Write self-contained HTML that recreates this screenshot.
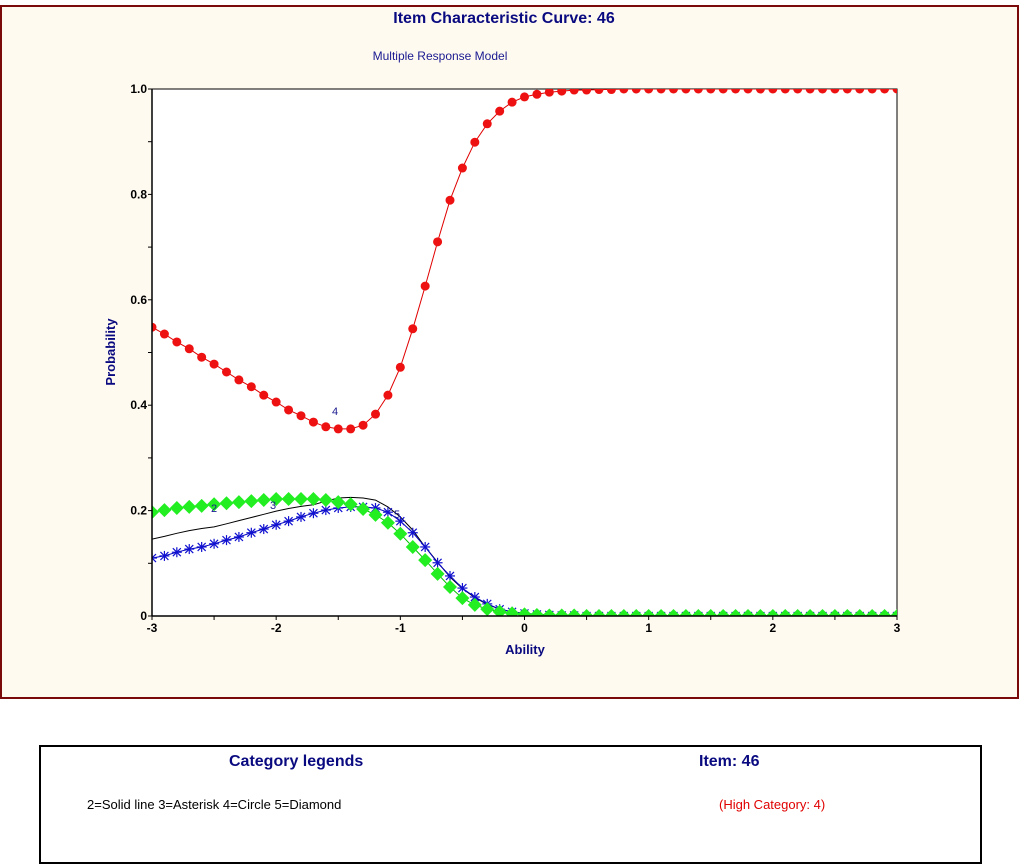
<!DOCTYPE html>
<html><head><meta charset="utf-8">
<style>
body{margin:0;width:1023px;height:867px;background:#fff;font-family:"Liberation Sans",Arial,sans-serif;position:relative;overflow:hidden}
#frame{position:absolute;left:0;top:5px;width:1015px;height:690px;border:2px solid #7a0a0a;background:#fffaf0}
#legend{position:absolute;left:39px;top:745px;width:939px;height:115px;border:2px solid #000;background:#fff}
</style></head><body>
<div id="frame"></div>
<svg id="chart" width="1023" height="700" style="position:absolute;left:0;top:0"><defs><clipPath id="pc"><rect x="152" y="89" width="745" height="527"/></clipPath></defs></svg>
<div id="legend">
<div style="position:absolute;left:188px;top:6px;font-weight:bold;font-size:16px;color:#0a0a80">Category legends</div>
<div style="position:absolute;left:658px;top:6px;font-weight:bold;font-size:16px;color:#0a0a80">Item: 46</div>
<div style="position:absolute;left:46px;top:50px;font-size:13px;color:#000">2=Solid line 3=Asterisk 4=Circle 5=Diamond</div>
<div style="position:absolute;left:678px;top:50px;font-size:13px;color:#e00000">(High Category: 4)</div>
</div>
<script>
const xs=[];for(let i=0;i<=60;i++)xs.push(-3+i*0.1);
const cat4=[0.548,0.535,0.520,0.507,0.491,0.478,0.463,0.448,0.435,0.419,0.406,0.391,0.380,0.368,0.359,0.355,0.355,0.362,0.383,0.419,0.472,0.545,0.626,0.710,0.789,0.850,0.899,0.934,0.958,0.975,0.985,0.990,0.994,0.996,0.998,0.998,0.999,0.999,1,1,1,1,1,1,1,1,1,1,1,1,1,1,1,1,1,1,1,1,1,1,1];
const cat5=[0.197,0.201,0.205,0.207,0.209,0.212,0.214,0.216,0.218,0.220,0.222,0.222,0.222,0.222,0.220,0.216,0.212,0.203,0.192,0.177,0.156,0.131,0.106,0.080,0.055,0.034,0.021,0.013,0.008,0.005,0.003,0.002,0.001,0.001,0.001,0,0,0,0,0,0,0,0,0,0,0,0,0,0,0,0,0,0,0,0,0,0,0,0,0,0];
const cat3=[0.110,0.114,0.121,0.127,0.131,0.137,0.144,0.150,0.158,0.165,0.173,0.180,0.188,0.195,0.201,0.205,0.207,0.207,0.205,0.197,0.180,0.158,0.131,0.101,0.076,0.053,0.036,0.023,0.013,0.008,0.005,0.003,0.002,0.001,0.001,0,0,0,0,0,0,0,0,0,0,0,0,0,0,0,0,0,0,0,0,0,0,0,0,0,0];
const cat2=[0.146,0.151,0.157,0.162,0.166,0.169,0.175,0.181,0.187,0.193,0.199,0.204,0.208,0.211,0.218,0.224,0.225,0.224,0.220,0.207,0.188,0.163,0.131,0.102,0.074,0.052,0.035,0.022,0.013,0.008,0.005,0.003,0.002,0.001,0.001,0,0,0,0,0,0,0,0,0,0,0,0,0,0,0,0,0,0,0,0,0,0,0,0,0,0];
const xTicks=[-3,-2,-1,0,1,2,3];
const yTicks=[0,0.2,0.4,0.6,0.8,1.0];
const yTickLabels=["0","0.2","0.4","0.6","0.8","1.0"];
const X0=152,X1=897,Y0=616,Y1=89;
const sx=v=>X0+(v+3)/6*(X1-X0);
const sy=v=>Y0-v*(Y0-Y1);
const svg=document.getElementById('chart');const NS='http://www.w3.org/2000/svg';
function mk(t,a,p){const e=document.createElementNS(NS,t);for(const k in a)e.setAttribute(k,a[k]);(p||svg).appendChild(e);return e;}
let e;
e=mk('rect',{x:X0,y:Y1,width:X1-X0,height:Y0-Y1,fill:'#fff',stroke:'#000','stroke-width':1});

function txt(s,a,name,p){const t=mk('text',a,p);t.textContent=s;return t;}
txt('Item Characteristic Curve: 46',{x:504,y:23,'text-anchor':'middle','font-size':16,'font-weight':'bold',fill:'#0a0a80'},'chart-title');
txt('Multiple Response Model',{x:440,y:60,'text-anchor':'middle','font-size':12,fill:'#1a1a90'},'chart-subtitle');
txt('Ability',{x:525,y:654,'text-anchor':'middle','font-size':13,'font-weight':'bold',fill:'#0a0a80'},'x-axis-title');
txt('Probability',{x:115,y:352,'text-anchor':'middle','font-size':13,'font-weight':'bold',fill:'#0a0a80',transform:'rotate(-90 115 352)'},'y-axis-title');
for(let v=-3;v<=3.001;v+=0.5){mk('line',{x1:sx(v),y1:Y0,x2:sx(v),y2:Y0+4,stroke:'#000'});}
xTicks.forEach(v=>{txt(String(v),{x:sx(v),y:Y0+16,'text-anchor':'middle','font-size':12,'font-weight':'bold'},'x-tick-label');});
for(let v=0;v<=1.001;v+=0.1){mk('line',{x1:X0-4,y1:sy(v),x2:X0,y2:sy(v),stroke:'#000'});}
yTicks.forEach((v,i)=>{txt(yTickLabels[i],{x:X0-5,y:sy(v)+4,'text-anchor':'end','font-size':12,'font-weight':'bold'},'y-tick-label');});
const G=mk('g',{'clip-path':'url(#pc)'});
function path(arr,col,name){const d=arr.map((v,i)=>(i?'L':'M')+sx(xs[i]).toFixed(1)+','+sy(v).toFixed(1)).join('');const p=mk('path',{d:d,fill:'none',stroke:col,'stroke-width':1},G);}
path(cat2,'#000','cat2-line');
path(cat3,'#0000c0','cat3-line');
cat3.forEach((v,i)=>{const x=sx(xs[i]),y=sy(v);const g=mk('g',{stroke:'#1010d0','stroke-width':1.2},G);
mk('line',{x1:x-5,y1:y,x2:x+5,y2:y},g);mk('line',{x1:x,y1:y-5,x2:x,y2:y+5},g);mk('line',{x1:x-4,y1:y-4,x2:x+4,y2:y+4},g);mk('line',{x1:x-4,y1:y+4,x2:x+4,y2:y-4},g);});
path(cat5,'#00c000','cat5-line');
cat5.forEach((v,i)=>{const x=sx(xs[i]),y=sy(v);const p=mk('polygon',{points:`${x},${y-7} ${x+7},${y} ${x},${y+7} ${x-7},${y}`,fill:'#22ee22'},G);});
path(cat4,'#e00000','cat4-line');
cat4.forEach((v,i)=>{const c=mk('circle',{cx:sx(xs[i]),cy:sy(v),r:4.5,fill:'#ee1111'},G);});
mk('line',{x1:X0,y1:Y0,x2:X1,y2:Y0,stroke:'#000','stroke-width':1.5});
mk('line',{x1:X0,y1:Y0,x2:X0,y2:Y1,stroke:'#000','stroke-width':1.5});
txt('2',{x:211,y:512,'font-size':11,fill:'#1a1a90'},'cat2-label');
txt('3',{x:270,y:509,'font-size':11,fill:'#1a1a90'},'cat3-label');
txt('4',{x:332,y:415,'font-size':11,fill:'#1a1a90'},'cat4-label');
txt('5',{x:394,y:518,'font-size':11,fill:'#1a1a90'},'cat5-label');
</script>
</body></html>
